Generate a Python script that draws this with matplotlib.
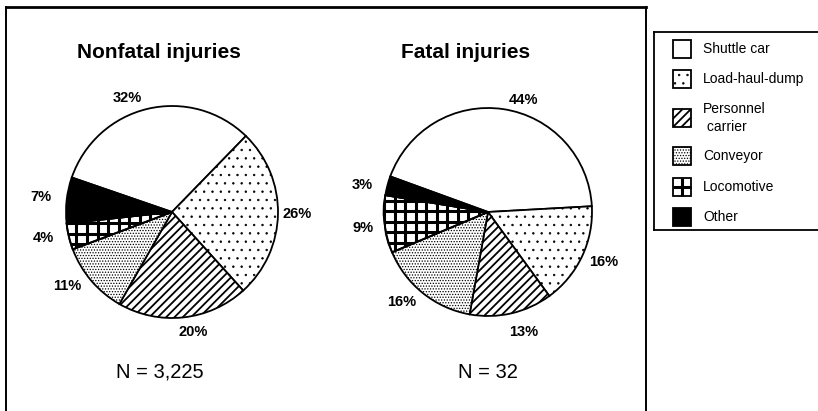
import matplotlib
matplotlib.use("Agg")
import matplotlib.pyplot as plt
from matplotlib.patches import Rectangle
from matplotlib.lines import Line2D
import numpy as np

plt.rcParams['font.family'] = ['Liberation Sans', 'DejaVu Sans']
plt.rcParams['hatch.linewidth'] = 0.5

categories = ["Shuttle car", "Load-haul-dump", "Personnel\n carrier",
              "Conveyor", "Locomotive", "Other"]
nonfatal_pct = [32, 26, 20, 11, 4, 7]
fatal_pct = [44, 16, 13, 16, 9, 3]
titles = ["Nonfatal injuries", "Fatal injuries"]
counts = ["N = 3,225", "N = 32"]

# locomotive gets a hand-drawn thick grid instead of a hatch
hatches = [None, "..", "////", "......", None, None]
hatch_lw = [0.5, 0.5, 1.3, 0.6, 0.5, 0.5]
faces = ["white", "white", "white", "white", "white", "black"]
GRID = 4  # index of the locomotive slice

W, H = 818, 411
fig = plt.figure(figsize=(W / 100, H / 100), dpi=100)


def px_axes(cx, cy, half):
    return fig.add_axes([(cx - half) / W, (H - cy - half) / H, 2 * half / W, 2 * half / H])


def set_hlw(patch, lw):
    if hasattr(patch, "set_hatch_linewidth"):
        patch.set_hatch_linewidth(lw)


def thick_grid(ax, patch, step, lw, lo, hi):
    for v in np.arange(lo, hi + step, step):
        for xs, ys in [([v, v], [lo, hi]), ([lo, hi], [v, v])]:
            ln, = ax.plot(xs, ys, color="black", lw=lw, solid_capstyle="butt")
            ln.set_clip_path(patch)


def draw_pie(vals, cx, cy, r, start, title, title_x, count_x, count, nudge, dist):
    lim = 1.6
    ax = px_axes(cx, cy, lim * r)
    wedges, _ = ax.pie(vals, startangle=start, counterclock=False, colors=faces,
                       hatch=hatches, radius=1.0,
                       wedgeprops=dict(edgecolor="black", linewidth=1.3))
    for w, lw in zip(wedges, hatch_lw):
        set_hlw(w, lw)
    thick_grid(ax, wedges[GRID], 10.5 / r, 2.2, -1.0, 1.0)
    # redraw the outline of the gridded wedge on top
    w = wedges[GRID]
    ax.add_patch(plt.Polygon(w.get_path().vertices, closed=True, fill=False,
                             edgecolor="black", lw=1.3))
    for w, v, dn, d in zip(wedges, vals, nudge, dist):
        ang = np.deg2rad((w.theta1 + w.theta2) / 2 + dn)
        ax.text(d * np.cos(ang), d * np.sin(ang), f"{v}%", ha="center", va="center",
                fontsize=10.5, fontweight="bold")
    ax.set_xlim(-lim, lim)
    ax.set_ylim(-lim, lim)
    ax.set_aspect("equal")
    ax.axis("off")
    fig.text(title_x / W, 1 - 53 / H, title, ha="center", va="center",
             fontsize=15, fontweight="bold")
    fig.text(count_x / W, 1 - 372 / H, count, ha="center", va="center", fontsize=14.5)


draw_pie(nonfatal_pct, 172, 212, 106, 161, titles[0], 159, 160, counts[0],
         [8, 0, 4, -5, -2, 0], [1.16, 1.18, 1.15, 1.21, 1.24, 1.24])
draw_pie(fatal_pct, 488, 212, 104, 160, titles[1], 466, 488, counts[1],
         [-9, 2, 3.5, -5, 0.5, 2.5], [1.13, 1.21, 1.2, 1.2, 1.21, 1.24])

# outer frame (open at the bottom)
for xs, ys, lw in [([6, 6], [7, H], 1.4), ([6, 646], [7, 7], 2.0), ([646, 646], [7, H], 1.4)]:
    fig.add_artist(Line2D([x / W for x in xs], [1 - y / H for y in ys],
                          transform=fig.transFigure, color="black", lw=lw))

# legend box
lax = fig.add_axes([654 / W, (H - 230) / H, 170 / W, 198 / H])
lax.set_xlim(0, 170)
lax.set_ylim(198, 0)
lax.set_xticks([])
lax.set_yticks([])
for s in lax.spines.values():
    s.set_linewidth(1.3)
row_y = [17, 47, 86, 124, 155, 185]
for i, (lab, y, hc, fc, hl) in enumerate(zip(categories, row_y, hatches, faces, hatch_lw)):
    p = Rectangle((19, y - 9), 18, 18, facecolor=fc, edgecolor="black",
                  hatch=hc, linewidth=1.3)
    set_hlw(p, hl)
    lax.add_patch(p)
    if i == GRID:
        lax.plot([28, 28], [y - 9, y + 9], color="black", lw=2.2, solid_capstyle="butt")
        lax.plot([19, 37], [y, y], color="black", lw=2.2, solid_capstyle="butt")
    lax.text(49, y, lab, ha="left", va="center", fontsize=10, linespacing=1.4)

fig.savefig("out.png", dpi=100)
